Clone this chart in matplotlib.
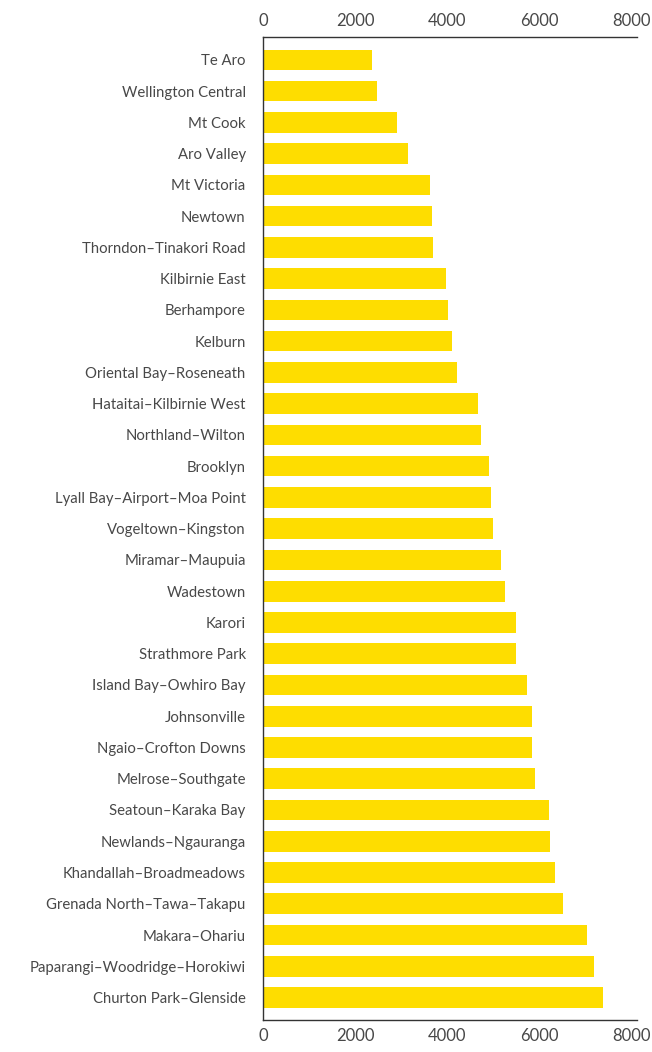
import matplotlib
matplotlib.use("Agg")
import matplotlib.pyplot as plt

# ==========================================
# DATA
# ==========================================
SUBURBS = [
    "Te Aro", "Wellington Central", "Mt Cook", "Aro Valley", "Mt Victoria",
    "Newtown", "Thorndon–Tinakori Road", "Kilbirnie East", "Berhampore",
    "Kelburn", "Oriental Bay–Roseneath", "Hataitai–Kilbirnie West",
    "Northland–Wilton", "Brooklyn", "Lyall Bay–Airport–Moa Point",
    "Vogeltown–Kingston", "Miramar–Maupuia", "Wadestown", "Karori",
    "Strathmore Park", "Island Bay–Owhiro Bay", "Johnsonville",
    "Ngaio–Crofton Downs", "Melrose–Southgate", "Seatoun–Karaka Bay",
    "Newlands–Ngauranga", "Khandallah–Broadmeadows",
    "Grenada North–Tawa–Takapu", "Makara–Ohariu",
    "Paparangi–Woodridge–Horokiwi", "Churton Park–Glenside",
]
VALUES = [
    2365, 2470, 2910, 3145, 3630,
    3665, 3690, 3970, 4015,
    4100, 4210, 4670,
    4735, 4910, 4950,
    4995, 5175, 5255, 5500,
    5500, 5740, 5840,
    5840, 5905, 6215,
    6240, 6350,
    6515, 7045,
    7195, 7390,
]
X_TICKS = [0, 2000, 4000, 6000, 8000]

BAR_COLOR = "#FEDD00"
AXIS_COLOR = "#333333"
TEXT_COLOR = "#484848"

plt.rcParams['font.family'] = ['Lato', 'DejaVu Sans']

fig = plt.figure(figsize=(6.52, 10.52), dpi=100)
ax = fig.add_axes([0.4034, 0.0304, 0.5736, 0.9341])

positions = list(range(len(SUBURBS)))
ax.barh(positions, VALUES, height=0.66, color=BAR_COLOR, zorder=2)

ax.set_ylim(len(SUBURBS) - 1 + 0.72, -0.72)
ax.set_xlim(0, 8120)

ax.set_yticks(positions)
ax.set_yticklabels(SUBURBS)
ax.set_xticks(X_TICKS)
ax.set_xticklabels([str(t) for t in X_TICKS])

ax.tick_params(axis='y', length=0, pad=12.5, labelsize=10.7, labelcolor=TEXT_COLOR)
ax.tick_params(axis='x', length=0, pad=6, labelsize=12, labelcolor=TEXT_COLOR,
               top=True, labeltop=True, bottom=True, labelbottom=True)

for side in ['left', 'top', 'bottom']:
    ax.spines[side].set_color(AXIS_COLOR)
    ax.spines[side].set_linewidth(1.0)
ax.spines['right'].set_visible(False)

for lbl in ax.get_xticklabels():
    lbl.set_clip_on(False)

fig.savefig("out.png", dpi=100)
